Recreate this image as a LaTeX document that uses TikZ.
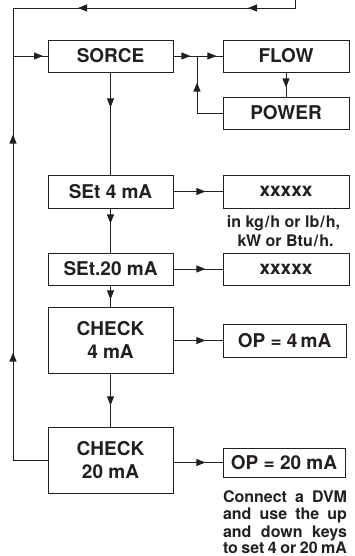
\documentclass[tikz,border=0pt]{standalone}
\usepackage{fontspec}
\setmainfont{TeX Gyre Heros}
\usetikzlibrary{arrows.meta,decorations.markings}
\definecolor{ink}{HTML}{231F20}
\newcommand\mytip{\arrow{Triangle[length=9pt,width=7pt]}}
\newcommand\fillline[1]{\makebox[124pt][s]{\spaceskip=2pt plus 20pt minus 1pt #1}}
\tikzset{
 box/.style={draw=ink, text=ink, line width=0.8pt, minimum height=32pt, inner sep=0pt, align=center, font=\fontsize{19}{23}\selectfont\bfseries},
 lbox/.style={box, minimum width=125pt},
 rbox/.style={box, minimum width=126pt},
 conn/.style={draw=ink, fill=none, line width=0.8pt},
 tipat/.style={postaction={decorate}, decoration={markings, mark=at position #1 with {\mytip}}},
 tipsat/.style 2 args={postaction={decorate}, decoration={markings, mark=at position #1 with {\mytip}, mark=at position #2 with {\mytip}}},
 note/.style={text=ink, font=\fontsize{16}{17.5}\selectfont\bfseries, inner sep=0pt, anchor=base},
}
\begin{document}
\begin{tikzpicture}[x=1pt,y=-1pt]
\useasboundingbox (0,0) rectangle (354,556);
\node[lbox] (sorce) at (110.5,56) {SORCE};
\node[rbox] (flow) at (286,56) {FLOW};
\node[rbox] (power) at (286,113) {POWER};
\node[lbox, minimum height=33pt] (set4) at (110.5,191.5) {SEt 4 mA};
\node[rbox, minimum height=33pt] (x1) at (286,191.5) {xxxxx};
\node[lbox] (set20) at (110.5,269) {SEt.20 mA};
\node[rbox] (x2) at (286,269) {xxxxx};
\node[lbox, minimum height=66pt] (chk4) at (110.5,340) {CHECK\\4 mA};
\node[box, minimum width=123pt, minimum height=33pt] (op4) at (284.5,340.5) {OP = 4\,mA};
\node[lbox, minimum height=66pt] (chk20) at (110.5,460) {CHECK\\20 mA};
\node[box, minimum width=122pt, minimum height=29pt] (op20) at (284,462.5) {OP = 20 mA};

\node[note] (u1) at (283.5,227) {in kg\kern1pt/\kern1pt h or lb\kern1pt/\kern1pt h,};
\node[note] (u2) at (285.5,246) {kW or Btu\kern1pt/\kern1pt h.};
\node[note] (d1) at (285,502) {\fillline{Connect a DVM}};
\node[note] (d2) at (285,519.5) {\fillline{and use the up}};
\node[note] (d3) at (285,537) {\fillline{and down keys}};
\node[note] (d4) at (285,553.5) {\fillline{to set 4 or 20 mA}};

\coordinate (topR) at (295,0);
\coordinate (topRc) at (295,8);
\coordinate (topL) at (13,8);
\coordinate (leftS) at (13,56);
\coordinate (leftB) at (13,460);
\coordinate (junc) at (197,56);
\coordinate (pc) at (197,113);

\draw[conn, tipsat={55pt}{225pt}] (topR) -- (topRc) -- (topL) -- (leftS);
\draw[conn, tipsat={142pt}{360pt}] (chk20.west) -- (leftB) -- (leftS);
\draw[conn, tipat=30pt] (leftS) -- (sorce.west);
\draw[conn, tipsat={17pt}{43pt}] (sorce.east) -- (flow.west);
\draw[conn, tipat=15pt] (flow.south) -- (power.north);
\draw[conn, tipat=56pt] (power.west) -- (pc) -- (junc);
\draw[conn, tipat=35pt] (sorce.south) -- (set4.north);
\draw[conn, tipat=32pt] (set4.east) -- (x1.west);
\draw[conn, tipat=15pt] (set4.south) -- (set20.north);
\draw[conn, tipat=32pt] (set20.east) -- (x2.west);
\draw[conn, tipat=14pt] (set20.south) -- (chk4.north);
\draw[conn, tipat=32pt] (chk4.east |- op4.west) -- (op4.west);
\draw[conn, tipat=32pt] (chk4.south) -- (chk20.north);
\draw[conn, tipat=32pt] (chk20.east |- op20.west) -- (op20.west);
\end{tikzpicture}
\end{document}
